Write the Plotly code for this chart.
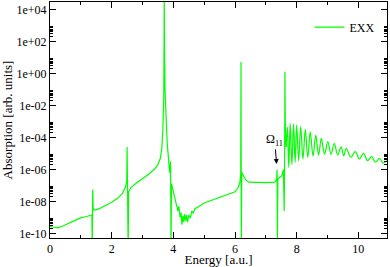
import math
import plotly.graph_objects as go

# ---- data ----
energy_main = [0.00, 0.10, 0.26, 0.40, 0.54, 0.75, 0.97, 1.15, 1.30, 1.36, 1.37, 1.385, 1.40, 1.43,
               1.60, 1.80, 2.00, 2.20, 2.35, 2.45, 2.49, 2.50, 2.515, 2.535, 2.55, 2.62, 2.80, 3.00,
               3.20, 3.40, 3.50, 3.58, 3.63, 3.66, 3.69, 3.70, 3.705, 3.715, 3.73, 3.76, 3.80, 3.85,
               3.88, 3.91, 3.925, 3.94, 4.00, 4.05, 4.10, 4.15, 4.18, 4.22, 4.25, 4.28, 4.31, 4.34,
               4.37, 4.40, 4.43, 4.46, 4.50, 4.55, 4.60, 4.65, 4.70, 4.80, 4.90, 5.00, 5.20, 5.40,
               5.60, 5.80, 6.00, 6.10, 6.16, 6.185, 6.195, 6.20, 6.205, 6.22, 6.27, 6.35, 6.45, 6.70,
               7.00, 7.30, 7.35, 7.365, 7.375, 7.39, 7.45, 7.52, 7.57, 7.595, 7.61, 7.62, 7.63, 7.645,
               7.66]
absorption_main = [2.7e-10, 2.5e-10, 2.2e-10, 2.8e-10, 3.8e-10, 5.6e-10, 8.9e-10, 1.1e-9, 1.3e-9, 1.4e-9,
                   1e-11, 5.6e-8, 3.5e-9, 2.8e-9,
                   3.5e-9, 5.6e-9, 8.9e-9, 1.6e-8, 3.2e-8, 7.9e-8, 2.0e-7, 2.5e-5, 3.2e-7, 1e-11,
                   4.0e-8, 7.1e-8, 1.4e-7, 2.5e-7,
                   5.0e-7, 1.1e-6, 2.0e-6, 5.0e-6, 2.5e-5, 3.2e-4, 3.2e-2, 1e2, 1e5, 3.2e1, 0.1,
                   1.6e-3, 5.0e-5, 3.2e-6,
                   6.3e-7, 3.2e-6, 1e-11, 1.3e-7, 3.5e-8, 1.3e-8, 6.3e-9, 2.5e-9, 5.0e-9, 1.0e-9,
                   2.0e-9, 3.5e-10, 1.3e-9, 5.0e-10,
                   1.6e-9, 6.3e-10, 1.4e-9, 5.0e-10, 1.4e-9, 8.9e-10, 2.5e-9, 1.8e-9, 3.5e-9, 4.5e-9,
                   6.3e-9, 7.9e-9, 1.1e-8, 1.5e-8,
                   2.0e-8, 2.8e-8, 4.0e-8, 7.1e-8, 1.6e-7, 5.0e-7, 5.2, 1e-3, 1e-11, 6.3e-7, 4.0e-7,
                   2.2e-7, 1.6e-7, 1.5e-7,
                   1.5e-7, 1.6e-7, 2.5e-7, 1.0e-6, 1e-11, 2.5e-7, 3.2e-7, 4.0e-7, 1.0e-6, 2.5e-9,
                   6.3e-6, 1.26, 1e-3, 5.0e-5,
                   2.5e-5]

energy_osc = [7.66, 7.70, 7.745, 7.79, 7.845, 7.90, 7.95, 8.00, 8.065, 8.13, 8.205, 8.28, 8.36, 8.44,
              8.53, 8.62, 8.71, 8.80, 8.905, 9.01, 9.115, 9.22, 9.33, 9.44, 9.525, 9.61, 9.755, 9.90,
              10.035, 10.17, 10.30, 10.43, 10.555, 10.68, 10.80, 10.93]
absorption_osc = [2.5e-5, 4.5e-4, 1.3e-6, 7.6e-4, 2.0e-6, 6.8e-4, 2.8e-6, 5.9e-4, 3.5e-6, 4.7e-4, 4.5e-6,
                  3.2e-4, 5.6e-6, 2.2e-4,
                  7.1e-6, 1.4e-4, 7.9e-6, 8.7e-5, 8.9e-6, 5.4e-5, 8.9e-6, 4.3e-5, 7.9e-6, 2.6e-5, 7.1e-6,
                  2.1e-5, 5.6e-6, 1.3e-5,
                  4.5e-6, 1.0e-5, 3.5e-6, 6.3e-6, 2.8e-6, 5.0e-6, 2.5e-6, 3.5e-6]

x_tick_vals = [0, 2, 4, 6, 8, 10]
y_tick_vals = [1e-10, 1e-8, 1e-6, 1e-4, 1e-2, 1e0, 1e2, 1e4]
y_tick_text = ["1e-10", "1e-08", "1e-06", "1e-04", "1e-02", "1e+00", "1e+02", "1e+04"]
y_minor_vals = [k * 10.0 ** n for n in range(-10, 4, 2) for k in range(2, 10)]

annotation_energy = 7.35
annotation_level = 2.2e-6

GREEN = "#00ff00"
FONT = "Liberation Serif"

fig = go.Figure()
fig.add_trace(go.Scatter(x=energy_main, y=absorption_main, mode="lines", name="EXX",
                         legendgroup="exx", line=dict(color=GREEN, width=1.2)))
fig.add_trace(go.Scatter(x=energy_osc, y=absorption_osc, mode="lines", name="EXX",
                         legendgroup="exx", showlegend=False,
                         line=dict(color=GREEN, width=1.2, shape="spline", smoothing=1.0)))

axis_common = dict(showline=True, linecolor="black", linewidth=1, mirror="allticks",
                   ticks="inside", tickcolor="black", ticklen=6, tickwidth=1,
                   showgrid=False, zeroline=False, automargin=False,
                   tickfont=dict(family=FONT, size=12, color="black"))

fig.update_xaxes(**axis_common, range=[0, 10.93], tickvals=x_tick_vals,
                 minor=dict(tickvals=[1, 3, 5, 7, 9], ticks="inside", ticklen=3,
                            tickcolor="black", showgrid=False),
                 title=dict(text="Energy [a.u.]", font=dict(family=FONT, size=13, color="black"),
                            standoff=3))
fig.update_yaxes(**axis_common, type="log", range=[-10.29, 4.47],
                 tickvals=y_tick_vals, ticktext=y_tick_text,
                 minor=dict(tickvals=y_minor_vals, ticks="inside", ticklen=3,
                            tickcolor="black", showgrid=False),
                 title=dict(text="Absorption [arb. units]",
                            font=dict(family=FONT, size=13, color="black"), standoff=2))

fig.add_annotation(x=annotation_energy, y=math.log10(annotation_level), xref="x", yref="y",
                   text="Ω<sub>11</sub>", showarrow=True, arrowhead=2, arrowsize=1,
                   arrowwidth=1, arrowcolor="black", ax=-2, ay=-24, standoff=0,
                   font=dict(family=FONT, size=12, color="black"))

fig.update_layout(width=390, height=267, margin=dict(l=50, r=3, t=2, b=29),
                  plot_bgcolor="white", paper_bgcolor="white",
                  showlegend=True,
                  legend=dict(x=0.77, y=0.955, xanchor="left", yanchor="top",
                              bgcolor="rgba(0,0,0,0)", borderwidth=0,
                              font=dict(family=FONT, size=12, color="black")),
                  font=dict(family=FONT))

fig.write_html("out.html", config={"displayModeBar": False},
               post_script="document.body.style.margin='0';document.body.style.padding='0';")
